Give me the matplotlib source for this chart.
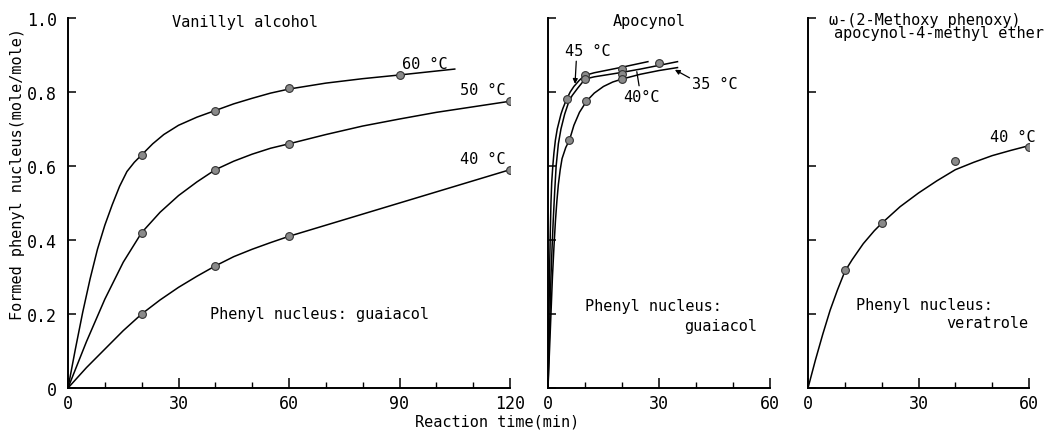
import matplotlib
matplotlib.use("Agg")
import matplotlib.pyplot as plt

# ---- measured points (time in min, formed phenyl nucleus in mole/mole) ----
# Vanillyl alcohol
va_t = [20, 40, 60, 90]
va_60 = [0.63, 0.75, 0.81, 0.845]
va_t50 = [20, 40, 60, 120]
va_50 = [0.42, 0.59, 0.66, 0.775]
va_t40 = [20, 40, 60, 120]
va_40 = [0.20, 0.33, 0.41, 0.59]

# Apocynol
ap_t45 = [5, 10, 20]
ap_45 = [0.78, 0.845, 0.862]
ap_t40 = [10, 20, 30]
ap_40 = [0.835, 0.85, 0.878]
ap_t35 = [5.8, 10.4, 20]
ap_35 = [0.67, 0.775, 0.835]

# w-(2-methoxy phenoxy)apocynol-4-methyl ether
me_t = [10, 20, 40, 60]
me_40 = [0.32, 0.446, 0.613, 0.652]

# ---- hand-drawn fitted curves ----
c60_t = [0, 2, 4, 6, 8, 10, 12, 14, 16, 18, 20, 23, 26, 30, 35, 40, 45, 50, 55, 60, 70, 80, 90, 105]
c60_y = [0, 0.105, 0.205, 0.295, 0.375, 0.44, 0.495, 0.545, 0.585, 0.61, 0.63, 0.66, 0.685,
         0.71, 0.732, 0.75, 0.768, 0.783, 0.797, 0.808, 0.824, 0.836, 0.846, 0.862]
c50_t = [0, 5, 10, 15, 20, 25, 30, 35, 40, 45, 50, 55, 60, 70, 80, 90, 100, 110, 120]
c50_y = [0, 0.125, 0.24, 0.34, 0.42, 0.475, 0.52, 0.557, 0.59, 0.613, 0.632, 0.648, 0.66,
         0.685, 0.708, 0.727, 0.745, 0.76, 0.775]
c40_t = [0, 5, 10, 15, 20, 25, 30, 35, 40, 45, 50, 55, 60, 70, 80, 90, 100, 110, 120]
c40_y = [0, 0.055, 0.105, 0.155, 0.20, 0.238, 0.272, 0.302, 0.33, 0.355, 0.375, 0.393, 0.41,
         0.44, 0.47, 0.50, 0.53, 0.56, 0.59]

a45_t = [0, 0.2, 0.4, 0.6, 0.8, 1.0, 1.3, 1.6, 2.0, 2.5, 3.0, 3.5, 4.0, 5.0, 6.0, 7.0, 8.5, 10, 12.5, 15, 20, 27]
a45_y = [0, 0.15, 0.30, 0.41, 0.50, 0.555, 0.60, 0.635, 0.67, 0.70, 0.72, 0.74, 0.755, 0.78,
         0.80, 0.815, 0.832, 0.845, 0.852, 0.857, 0.867, 0.882]
a40_t = [0, 0.4, 0.8, 1.1, 1.4, 1.8, 2.2, 2.8, 3.5, 4.5, 5.5, 6.5, 8, 10, 12.5, 15, 20, 25, 30, 35]
a40_y = [0, 0.15, 0.30, 0.38, 0.45, 0.53, 0.60, 0.66, 0.70, 0.74, 0.77, 0.79, 0.81, 0.835,
         0.841, 0.845, 0.853, 0.862, 0.872, 0.882]
a35_t = [0, 0.6, 1.2, 1.6, 2.0, 2.4, 2.8, 3.3, 3.8, 4.8, 5.8, 7.0, 8.5, 10.4, 12.5, 15, 17.5, 20, 25, 30, 35]
a35_y = [0, 0.15, 0.30, 0.38, 0.45, 0.505, 0.55, 0.59, 0.62, 0.65, 0.67, 0.71, 0.745, 0.775,
         0.797, 0.815, 0.827, 0.835, 0.848, 0.858, 0.866]

cm_t = [0, 2, 4, 6, 8, 10, 12, 15, 18, 20, 25, 30, 35, 40, 45, 50, 55, 60]
cm_y = [0, 0.075, 0.145, 0.21, 0.265, 0.315, 0.347, 0.39, 0.425, 0.445, 0.49, 0.527, 0.56,
        0.59, 0.61, 0.628, 0.642, 0.655]

y_ticks = [0, 0.2, 0.4, 0.6, 0.8, 1.0]
y_ticklabels = ["0", "0.2", "0.4", "0.6", "0.8", "1.0"]

FONT = "DejaVu Sans Mono"
plt.rcParams["font.family"] = FONT
MK = dict(marker="o", markersize=5.6, markerfacecolor="#8a8a8a",
          markeredgecolor="#333333", markeredgewidth=0.8, linestyle="none", zorder=3)
LN = dict(color="black", linewidth=1.1, solid_joinstyle="round")

fig = plt.figure(figsize=(10.59, 4.31), dpi=100)
bottom, height = 1 - 389 / 431, 370 / 431
ax1 = fig.add_axes([68 / 1059, bottom, 442 / 1059, height])
ax2 = fig.add_axes([548 / 1059, bottom, 222 / 1059, height])
ax3 = fig.add_axes([808 / 1059, bottom, 221 / 1059, height])


def style(ax, xmax, xmajor, xminor, ylabels):
    ax.set_xlim(0, xmax)
    ax.set_ylim(0, 1.0)
    for s in ("top", "right"):
        ax.spines[s].set_visible(False)
    for s in ("left", "bottom"):
        ax.spines[s].set_linewidth(1.4)
    ax.set_xticks(xmajor)
    ax.set_xticks(xminor, minor=True)
    ax.set_xticklabels([str(v) for v in xmajor], fontsize=12)
    ax.set_yticks(y_ticks)
    if ylabels:
        ax.set_yticklabels(y_ticklabels, fontsize=12)
    else:
        ax.set_yticklabels([])
    ax.tick_params(axis="x", which="major", direction="in", length=7, width=1.1, pad=4)
    ax.tick_params(axis="x", which="minor", direction="in", length=4, width=1.0)
    ax.tick_params(axis="y", which="major", direction="in", length=6, width=1.1, pad=8)
    ax.set_facecolor("none")


# Vanillyl alcohol
style(ax1, 120, [0, 30, 60, 90, 120], [10, 20, 40, 50, 70, 80, 100, 110], True)
ax1.plot(c60_t, c60_y, **LN)
ax1.plot(c50_t, c50_y, **LN)
ax1.plot(c40_t, c40_y, **LN)
ax1.plot(va_t, va_60, **MK)
ax1.plot(va_t50, va_50, **MK)
ax1.plot(va_t40, va_40, **MK)
ax1.text(28.3, 0.99, "Vanillyl alcohol", fontsize=11, va="center")
ax1.text(90.8, 0.876, "60 °C", fontsize=11, va="center")
ax1.text(106.5, 0.808, "50 °C", fontsize=11, va="center")
ax1.text(106.5, 0.619, "40 °C", fontsize=11, va="center")
ax1.text(38.6, 0.2, "Phenyl nucleus: guaiacol", fontsize=11, va="center")

# Apocynol
style(ax2, 60, [0, 30, 60], [10, 20, 40, 50], False)
ax2.plot(a45_t, a45_y, **LN)
ax2.plot(a40_t, a40_y, **LN)
ax2.plot(a35_t, a35_y, **LN)
ax2.plot(ap_t45, ap_45, **MK)
ax2.plot(ap_t40, ap_40, **MK)
ax2.plot(ap_t35, ap_35, **MK)
ax2.text(17.6, 0.994, "Apocynol", fontsize=11, va="center")
ax2.annotate("45 °C", xy=(7.3, 0.822), xytext=(4.6, 0.911), fontsize=11, va="center",
             arrowprops=dict(arrowstyle="-|>", color="black", lw=0.9,
                             mutation_scale=7, shrinkA=0, shrinkB=0,
                             relpos=(0.25, 0.0)))
ax2.annotate("40°C", xy=(24.0, 0.855), xytext=(20.3, 0.789), fontsize=11, va="center",
             arrowprops=dict(arrowstyle="-", color="black", lw=0.9,
                             shrinkA=0, shrinkB=0, relpos=(0.45, 1.0)))
ax2.annotate("35 °C", xy=(34.3, 0.86), xytext=(39.0, 0.822), fontsize=11, va="center",
             arrowprops=dict(arrowstyle="-|>", color="black", lw=0.9,
                             mutation_scale=7, shrinkA=0, shrinkB=0,
                             relpos=(0.0, 0.8)))
ax2.text(10.0, 0.222, "Phenyl nucleus:", fontsize=11, va="center")
ax2.text(56.5, 0.168, "guaiacol", fontsize=11, va="center", ha="right")

# Methyl ether
style(ax3, 60, [0, 30, 60], [10, 20, 40, 50], False)
ax3.plot(cm_t, cm_y, **LN)
ax3.plot(me_t, me_40, **MK)
ax3.text(5.7, 0.997, "ω-(2-Methoxy phenoxy)", fontsize=11, va="center")
ax3.text(7.0, 0.962, "apocynol-4-methyl ether", fontsize=11, va="center")
ax3.text(49.4, 0.68, "40 °C", fontsize=11, va="center")
ax3.text(13.0, 0.227, "Phenyl nucleus:", fontsize=11, va="center")
ax3.text(59.8, 0.176, "veratrole", fontsize=11, va="center", ha="right")

fig.text(18 / 1059, 1 - 174 / 431, "Formed phenyl nucleus(mole/mole)", rotation=90,
         ha="center", va="center", fontsize=11)
fig.text(497 / 1059, 1 - 422 / 431, "Reaction time(min)", ha="center", va="center",
         fontsize=11)

fig.savefig("out.png", dpi=100, facecolor="white")
